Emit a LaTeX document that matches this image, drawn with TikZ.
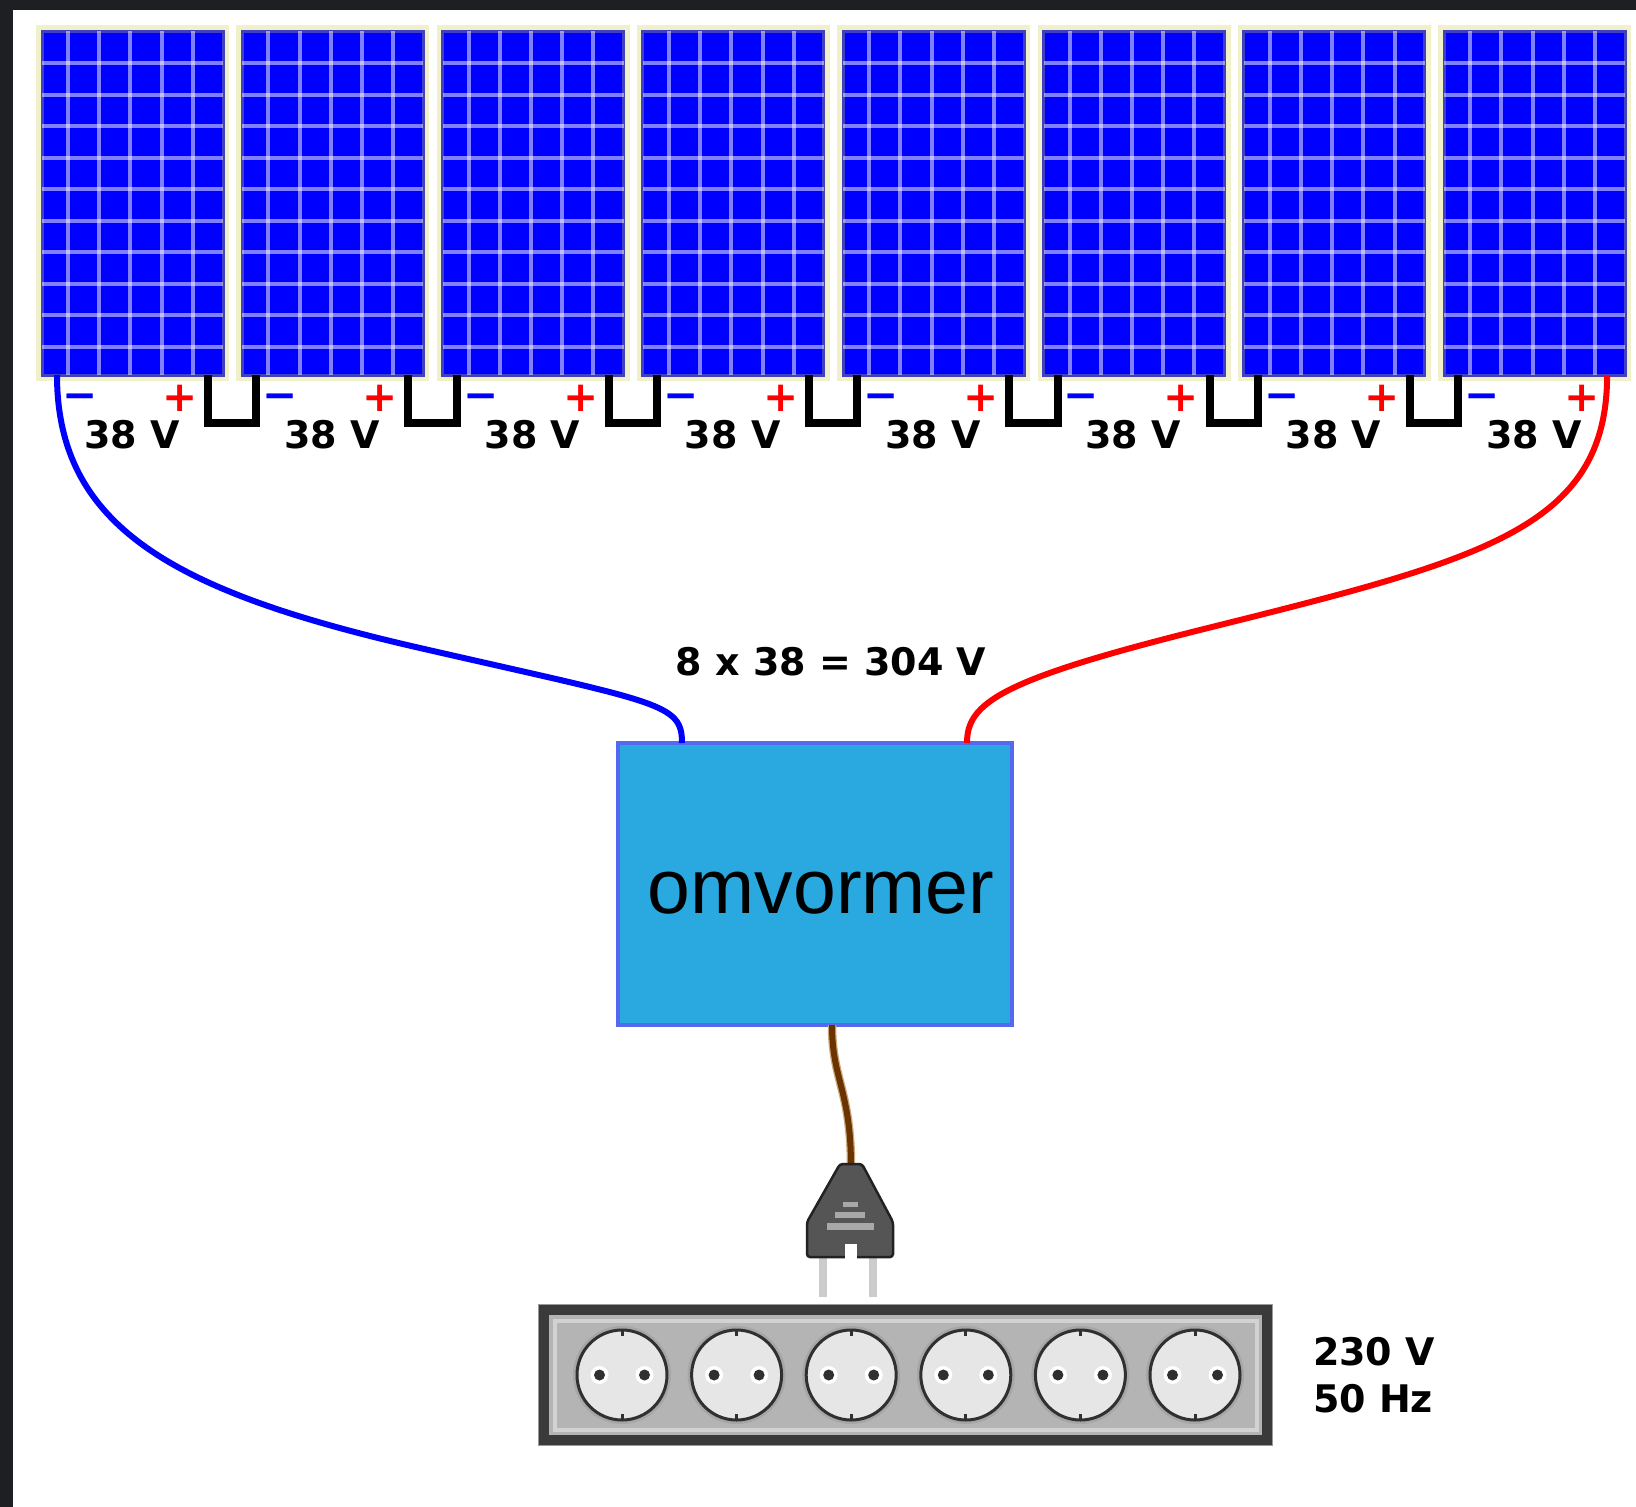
\documentclass[tikz,border=0pt]{standalone}
\usepackage{fontspec}
\newfontfamily\labelfont{DejaVu Sans}
\newfontfamily\boxfont{Liberation Sans}
\definecolor{panelblue}{HTML}{0000FF}
\definecolor{panelrim}{HTML}{4040C0}
\definecolor{panelcream}{HTML}{F0F0CA}
\definecolor{invfill}{HTML}{29A9E0}
\definecolor{invrim}{HTML}{5468F0}
\definecolor{framedark}{HTML}{1E1F22}
\definecolor{cordbrown}{HTML}{6B3300}
\definecolor{cordtan}{HTML}{CBA77C}
\definecolor{plugbody}{HTML}{555555}
\definecolor{plugedge}{HTML}{222222}
\definecolor{plugstripe}{HTML}{A8A8A8}
\definecolor{pincolor}{HTML}{CCCCCC}
\definecolor{stripfill}{HTML}{B4B4B4}
\definecolor{stripedge}{HTML}{3A3A3A}
\definecolor{striplight}{HTML}{D2D2D2}
\definecolor{socketfill}{HTML}{E6E6E6}
\definecolor{socketedge}{HTML}{303030}
\definecolor{negblue}{HTML}{0000FF}
\definecolor{posred}{HTML}{FF0000}
\begin{document}
\begin{tikzpicture}[x=1pt,y=-1pt,
  every node/.style={outer sep=0pt, inner sep=0pt},
  gridline/.style={draw=white, opacity=0.5, line width=4pt},
  panel/.style={rectangle, minimum width=181pt, minimum height=344pt,
    fill=panelblue, draw=panelrim, line width=3pt,
    preaction={draw=panelcream, line width=12pt}},
  jumper/.style={draw=black, line width=8pt, line join=miter},
  wireneg/.style={draw=negblue, line width=6pt},
  wirepos/.style={draw=posred, line width=6pt},
  vlabel/.style={font={\labelfont\bfseries\fontsize{38}{46}\selectfont}, text=black},
  minussign/.style={font={\labelfont\bfseries\fontsize{42}{42}\selectfont}, text=negblue},
  plussign/.style={font={\labelfont\bfseries\fontsize{42}{42}\selectfont}, text=posred},
  inverter/.style={rectangle, minimum width=394pt, minimum height=282pt,
    fill=invfill, draw=invrim, line width=4pt},
  invtext/.style={font={\boxfont\fontsize{77}{92}\selectfont}, text=black},
  cord/.style={draw=cordbrown, line width=6pt, preaction={draw=cordtan, line width=8.5pt}},
  strip/.style={rectangle, minimum width=723pt, minimum height=130pt,
    fill=stripfill, draw=stripedge, line width=10pt,
    preaction={draw=gray!80, line width=12pt}},
  socket/.style={circle, minimum size=90pt, fill=socketfill, draw=socketedge,
    line width=3pt, preaction={draw=gray!70, line width=8pt}},
  hole/.style={fill=socketedge},
  holehalo/.style={fill=white},
  socketmark/.style={draw=socketedge, line width=3pt}
]
% page and dark edge
\useasboundingbox (0,0) rectangle (1636,1507);
\fill[white] (0,0) rectangle (1636,1507);
\fill[framedark] (0,0) rectangle (1636,10);
\fill[framedark] (0,0) rectangle (13,1507);

% solar panels with their cell grid
\foreach \i in {1,...,8} {
  \node[panel] (p\i) at ({132.5+200.3*(\i-1)},203) {};
  \foreach \gx in {0,...,4}
    \draw[gridline] ([xshift={26+31.2*\gx}]p\i.north west) -- ([xshift={26+31.2*\gx}]p\i.south west);
  \foreach \gy in {0,...,9}
    \draw[gridline] ([shift={(0,32+31.5*\gy)}]p\i.north west) -- ([shift={(0,32+31.5*\gy)}]p\i.north east);
}

% series jumpers between neighbouring panels
\foreach \i [count=\j from 2] in {1,...,7}
  \draw[jumper] ([xshift=-15pt]p\i.south east) -- ++(0,48) -| ([xshift=14pt]p\j.south west);

% polarity marks and panel voltages
\foreach \i in {1,...,8} {
  \node[minussign] (m\i) at ([shift={(38,27)}]p\i.south west) {−};
  \node[plussign] (a\i) at ([shift={(138,23)}]p\i.south west) {+};
  \node[vlabel, anchor=base west] (v\i) at ([shift={(42,73)}]p\i.south west) {38 V};
}

% inverter
\node[inverter] (inv) at (815,884) {};
\node[invtext] (invlabel) at ([shift={(6,9)}]inv.center) {omvormer};

% string voltage
\node[vlabel, anchor=base] (total) at (831,675) {8 x 38 = 304 V};

% DC cables
\coordinate (bmid) at (420,648);
\coordinate (rmid) at (1200,630);
\draw[wireneg] ([xshift=15pt]p1.south west) .. controls +(0,155) and +(-240,-55) .. (bmid)
  .. controls +(240,55) and +(0,-40) .. ([xshift=64pt]inv.north west);
\draw[wirepos] ([xshift=-18pt]p8.south east) .. controls +(0,155) and +(280,-70) .. (rmid)
  .. controls +(-200,50) and +(0,-40) .. ([xshift=-45pt]inv.north east);

% mains plug
\coordinate (plugtop) at (851,1167);
\fill[pincolor] (819,1252) rectangle (827,1297);
\fill[pincolor] (869,1252) rectangle (877,1297);
\draw[cord] ([xshift=17pt]inv.south) .. controls +(0,55) and +(0,-77) .. (plugtop);
\filldraw[fill=plugbody, draw=plugedge, line width=2.5pt, rounded corners=3pt]
  (840,1164) -- (862,1164) -- (893,1222) -- (893,1257) -- (807,1257) -- (807,1222) -- cycle;
\fill[white] (845,1244) rectangle (857,1259);
\fill[plugstripe] (843,1202) rectangle (858,1207);
\fill[plugstripe] (835,1212) rectangle (865,1218);
\fill[plugstripe] (827,1223) rectangle (874,1230);

% socket strip
\node[strip] (strip) at (905.5,1375) {};
\draw[striplight, line width=4pt] ([shift={(10.5,10.5)}]strip.north west)
  rectangle ([shift={(-10.5,-10.5)}]strip.south east);
\foreach \k in {1,...,6} {
  \node[socket] (s\k) at ({622+114.6*(\k-1)},1375) {};
  \fill[holehalo] ([xshift=-22.5pt]s\k.center) circle (9pt);
  \fill[holehalo] ([xshift=22.5pt]s\k.center) circle (9pt);
  \fill[hole] ([xshift=-22.5pt]s\k.center) circle (5.5pt);
  \fill[hole] ([xshift=22.5pt]s\k.center) circle (5.5pt);
  \draw[socketmark] (s\k.north) -- ++(0,6);
  \draw[socketmark] (s\k.south) -- ++(0,-6);
}

% mains rating
\node[vlabel, anchor=base west] (acv) at (1313,1365) {230 V};
\node[vlabel, anchor=base west] (achz) at (1313,1412) {50 Hz};
\end{tikzpicture}
\end{document}
